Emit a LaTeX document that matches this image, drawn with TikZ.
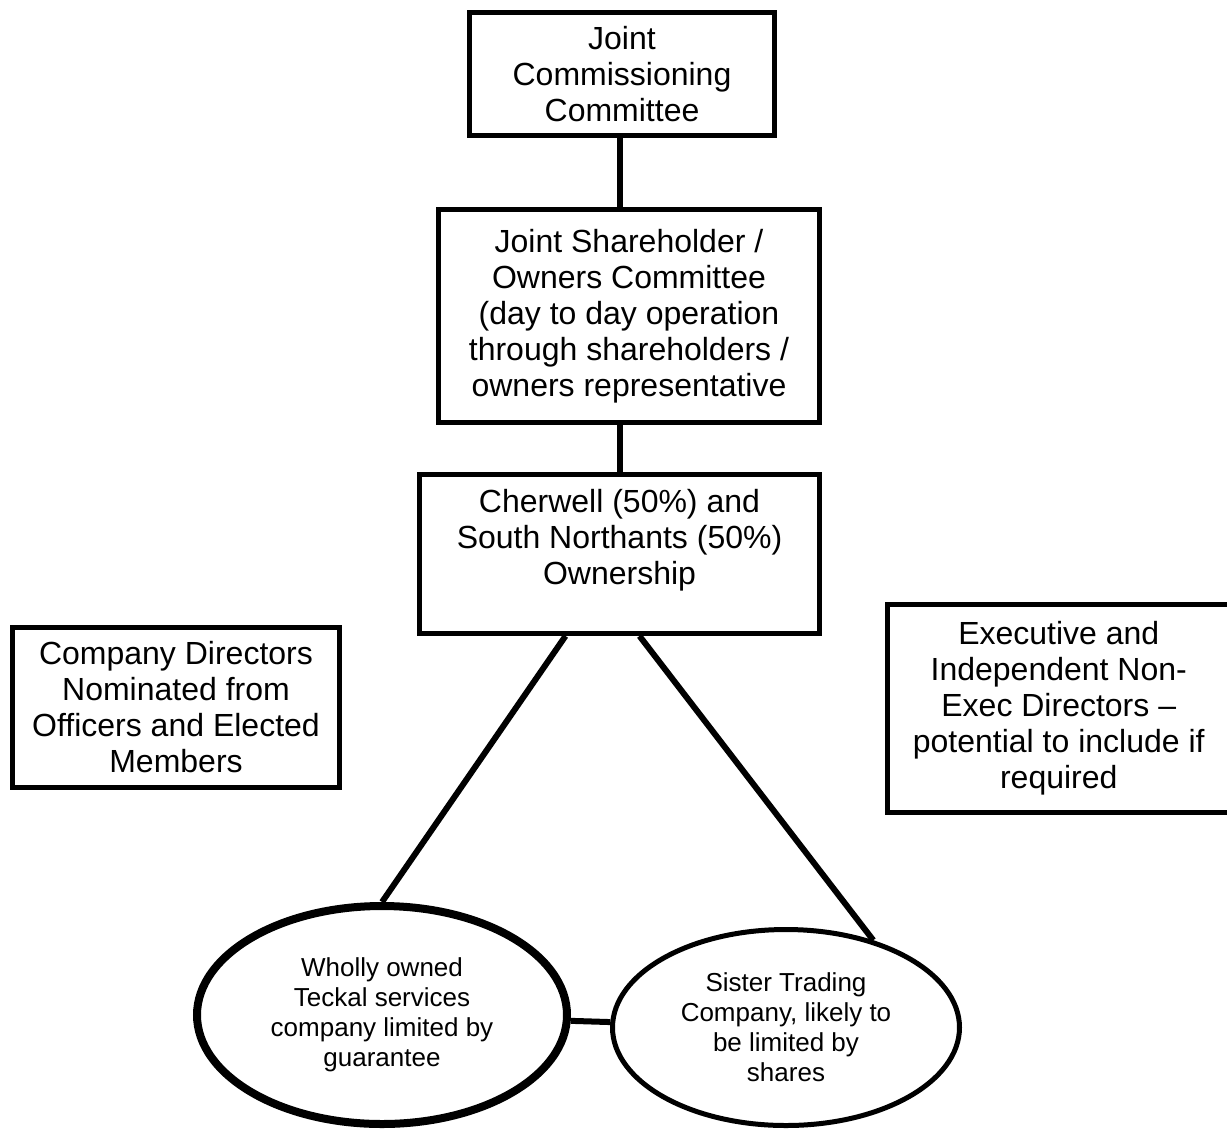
\documentclass[tikz,border=0pt]{standalone}
\usepackage{fontspec}
\setmainfont{Liberation Sans}
\usetikzlibrary{shapes.geometric}

\begin{document}
\begin{tikzpicture}[x=0.5pt,y=0.5pt]
	\tikzstyle{box}=[draw,line width=2.5pt,align=center,inner sep=0pt,font=\fontsize{16}{18}\selectfont]
	\tikzstyle{company}=[draw,ellipse,align=center,inner sep=0pt,font=\fontsize{13}{15}\selectfont]
	\tikzstyle{link}=[line width=3pt]

	\useasboundingbox (0,0) rectangle (1227,-1131);

	% Draw the committee boxes
	\node[box,minimum width=152.5pt,minimum height=61.5pt] (JCC) at (622,-74)
		{Joint\\Commissioning\\Committee};
	\node[box,minimum width=190.5pt,minimum height=106.5pt] (JSC) at (629,-316)
		{Joint Shareholder /\\Owners Committee\\(day to day operation\\through shareholders /\\owners representative};
	\node[box,minimum width=200pt,minimum height=79.5pt] (own) at (619.5,-554) {};
	\node[align=center,inner sep=0pt,font=\fontsize{16}{18}\selectfont] (own-txt) at (619.5,-540)
		{Cherwell (50\%) and\\South Northants (50\%)\\Ownership};

	% Draw the side boxes
	\node[box,minimum width=163.5pt,minimum height=80pt] (dir) at (176,-707.5)
		{Company Directors\\Nominated from\\Officers and Elected\\Members};
	\node[box,minimum width=171.25pt,minimum height=104pt] (exec) at (1058.75,-708.5)
		{Executive and\\Independent Non-\\Exec Directors –\\potential to include if\\required};

	% Draw the two companies
	\node[company,line width=4pt,minimum width=185pt,minimum height=109pt] (teckal) at (382,-1015)
		{Wholly owned\\Teckal services\\company limited by\\guarantee};
	\node[company,line width=2.5pt,minimum width=173.5pt,minimum height=98pt] (sister) at (786,-1027.5)
		{Sister Trading\\Company, likely to\\be limited by\\shares};

	% Connect the boxes
	\draw[link] (JCC.south -| own.north) -- (JSC.north -| own.north);
	\draw[link] (JSC.south -| own.north) -- (own.north);
	\draw[link] ([xshift=-27pt]own.south) -- (teckal.north);
	\draw[link] ([xshift=10pt]own.south) -- (sister.45);
	\draw[link] (teckal) -- (sister);
\end{tikzpicture}
\end{document}
